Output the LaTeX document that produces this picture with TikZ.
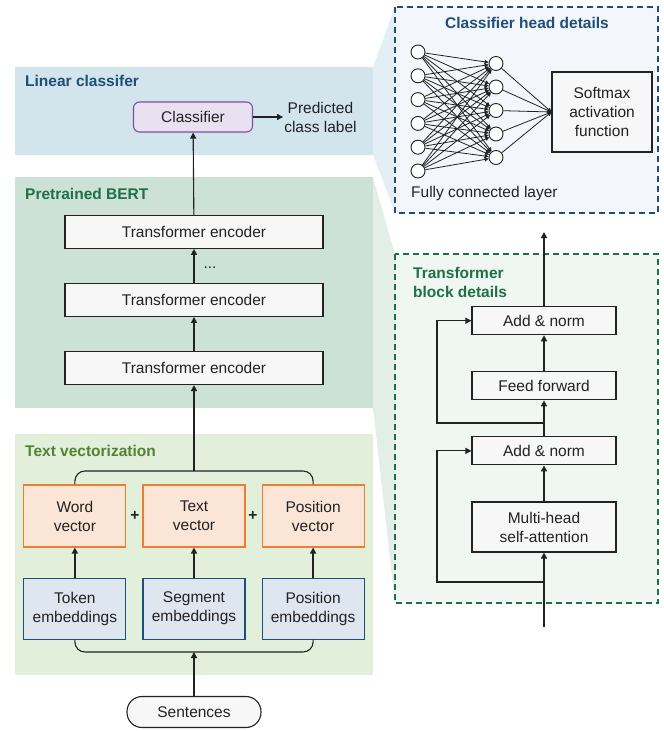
\documentclass[tikz,border=0pt]{standalone}
\usepackage{fontspec}
\setmainfont{Liberation Sans}
\usetikzlibrary{positioning, arrows.meta}

\definecolor{lcfill}{HTML}{D2E4EC}
\definecolor{bertfill}{HTML}{CCE2D6}
\definecolor{tvfill}{HTML}{E2EFDA}
\definecolor{headfill}{HTML}{F3F7FB}
\definecolor{headcall}{HTML}{E4EEF5}
\definecolor{blkfill}{HTML}{F0F6F2}
\definecolor{blkcall}{HTML}{E2EEE7}
\definecolor{darkblue}{HTML}{1F4E79}
\definecolor{darkgreen}{HTML}{1E7145}
\definecolor{olive}{HTML}{548235}
\definecolor{vecfill}{HTML}{FBE5D6}
\definecolor{vecdraw}{HTML}{ED7D31}
\definecolor{embfill}{HTML}{DEE6EF}
\definecolor{clsfill}{HTML}{E9E1F1}
\definecolor{clsdraw}{HTML}{7F4F9F}
\definecolor{boxfill}{HTML}{F6F7F6}
\definecolor{ink}{HTML}{222222}

\begin{document}
\fontsize{15.5}{19}\selectfont
\begin{tikzpicture}[
  x=1pt, y=1pt,
  node distance = 34pt and 16pt,
  every node/.style = {text=ink},
  title/.style = {anchor=west, font=\bfseries, inner sep=0pt},
  enc/.style = {draw=ink, line width=1.1pt, fill=boxfill, minimum width=258pt, minimum height=33pt},
  vec/.style = {draw=vecdraw, line width=1.1pt, fill=vecfill, minimum width=102pt,
                minimum height=62pt, align=center},
  emb/.style = {draw=darkblue, line width=1.1pt, fill=embfill, minimum width=102pt,
                minimum height=61pt, align=center},
  blk/.style = {draw=ink, line width=1.1pt, fill=boxfill, minimum width=144pt,
                minimum height=28pt, align=center},
  neuron/.style = {circle, draw=ink, fill=white, line width=0.9pt, minimum size=14pt, inner sep=0pt},
  arr/.style = {-{Triangle[length=6pt, width=6pt]}, line width=1.8pt, draw=ink},
  thinarr/.style = {-{Triangle[length=6pt, width=6pt]}, line width=1.1pt, draw=ink},
  nnarr/.style = {-{Triangle[length=4pt, width=4pt]}, line width=0.8pt, draw=ink},
  dashbox/.style = {dashed, dash pattern=on 6pt off 4pt, line width=1.1pt},
]
  \useasboundingbox (0,0) rectangle (664,-731);

  % zoom callouts
  \fill[headcall] (373,-67) -- (395,-7) -- (395,-213) -- (373,-155) -- cycle;
  \fill[blkcall] (373,-178) -- (395,-254) -- (395,-603) -- (373,-408) -- cycle;

  % panels
  \fill[lcfill] (15,-67) rectangle (373,-155);
  \fill[bertfill] (15,-177) rectangle (373,-408);
  \fill[tvfill] (15,-434) rectangle (373,-675);
  \node[title, text=darkblue] (lctitle) at (25,-81) {Linear classifer};
  \node[title, text=darkgreen] (berttitle) at (25,-194) {Pretrained BERT};
  \node[title, text=olive] (tvtitle) at (25,-451) {Text vectorization};

  % text vectorization
  \node[vec] (tvec) at (194,-516) {Text\\vector};
  \node[vec, left=of tvec] (wvec) {Word\\vector};
  \node[vec, right=of tvec] (pvec) {Position\\vector};
  \node[font=\bfseries] (plus1) at (135,-516) {+};
  \node[font=\bfseries] (plus2) at (253,-516) {+};
  \node[emb, below=30pt of wvec] (temb) {Token\\embeddings};
  \node[emb, below=30pt of tvec] (semb) {Segment\\embeddings};
  \node[emb, below=30pt of pvec] (pemb) {Position\\embeddings};
  \node[draw=ink, line width=1.1pt, fill=boxfill, rounded corners=15pt,
        minimum width=134pt, minimum height=31pt] (sent) at (194,-712) {Sentences};

  \coordinate (join) at (194,-471);
  \coordinate (split) at (194,-652);
  \draw[line width=1.1pt, draw=ink, rounded corners=10pt] (wvec.north) |- (join) -| (pvec.north);
  \draw[line width=1.1pt, draw=ink, rounded corners=10pt] (temb.south) |- (split) -| (pemb.south);
  \draw[arr] (sent) -- (split);
  \draw[arr] (temb) -- (wvec);
  \draw[arr] (semb) -- (tvec);
  \draw[arr] (pemb) -- (pvec);

  % BERT
  \node[enc] (enc1) at (194,-368) {Transformer encoder};
  \node[enc, above=of enc1] (enc2) {Transformer encoder};
  \node[enc, above=of enc2] (enc3) {Transformer encoder};
  \node (dots) at (210,-268) {...};
  \draw[arr] (join) -- (enc1);
  \draw[arr] (enc1) -- (enc2);
  \draw[arr] (enc2) -- (enc3);

  % classifier
  \node[draw=clsdraw, line width=1.1pt, fill=clsfill, rounded corners=6pt,
        minimum width=119pt, minimum height=30pt] (cls) at (193,-117) {Classifier};
  \node[right=30pt of cls, align=center, inner sep=1pt] (pred) {Predicted\\class label};
  \draw[thinarr] (enc3) -- (cls);
  \draw[thinarr] (cls) -- (pred);

  % classifier head details
  \draw[dashbox, draw=darkblue, fill=headfill] (395,-7) rectangle (658,-213);
  \node[font=\bfseries, text=darkblue] (headtitle) at (527,-23) {Classifier head details};
  \node[draw=ink, line width=1.1pt, fill=boxfill, minimum width=100pt, minimum height=80pt,
        align=center] (soft) at (602,-112) {Softmax\\activation\\function};
  \foreach \i in {1,...,6}
    \node[neuron] (x\i) at (418,{-52-23.8*(\i-1)}) {};
  \foreach \j in {1,...,5}
    \node[neuron] (h\j) at (496,{-63.5-23.5*(\j-1)}) {};
  \foreach \i in {1,...,6}
    \foreach \j in {1,...,5}
      \draw[nnarr] (x\i) -- (h\j);
  \foreach \j in {1,...,5}
    \draw[nnarr] (h\j) -- (soft.west);
  \node[anchor=west, inner sep=0pt] (fcl) at (411,-193) {Fully connected layer};

  % transformer block details
  \draw[dashbox, draw=darkgreen, fill=blkfill] (395,-254) rectangle (658,-603);
  \node[title, text=darkgreen, align=left] (blktitle) at (413,-282.5) {Transformer\\block details};
  \node[blk, minimum height=50pt] (mha) at (544,-527) {Multi-head\\self-attention};
  \node[blk, above=36pt of mha] (add1) {Add \& norm};
  \node[blk, above=36pt of add1] (ff) {Feed forward};
  \node[blk, above=36pt of ff] (add2) {Add \& norm};
  \coordinate (blkin) at (544,-627);
  \coordinate (blkout) at (544,-232);
  \coordinate (res1) at (544,-582);
  \coordinate (res2) at (544,-423);
  \draw[arr] (blkin) -- (mha);
  \draw[arr] (mha) -- (add1);
  \draw[arr] (add1) -- (ff);
  \draw[arr] (ff) -- (add2);
  \draw[arr] (add2) -- (blkout);
  \draw[thinarr] (res1) -- ++(-107,0) |- (add1);
  \draw[thinarr] (res2) -- ++(-107,0) |- (add2);
\end{tikzpicture}
\end{document}
